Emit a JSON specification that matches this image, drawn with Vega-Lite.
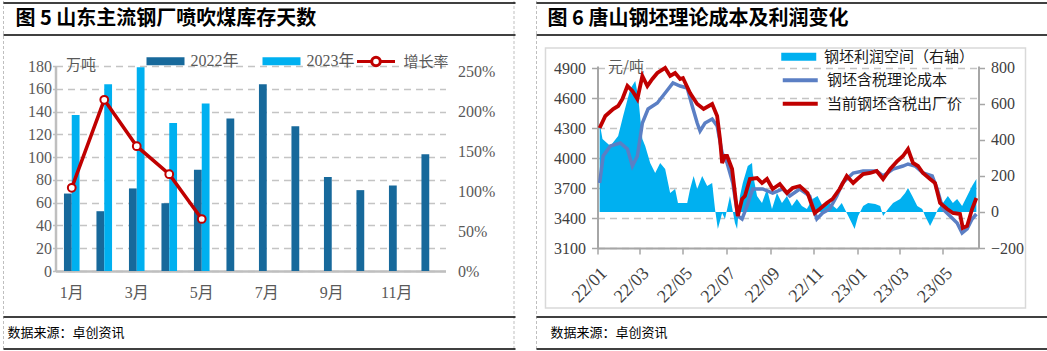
{
  "$schema": "https://vega.github.io/schema/vega-lite/v6.json",
  "padding": {"left": 2.5, "top": 0, "right": 0, "bottom": 0},
  "bounds": "flush",
  "spacing": 152,
  "resolve": {
    "scale": {"color": "independent", "fill": "independent", "stroke": "independent"},
    "legend": {"color": "independent", "fill": "independent", "stroke": "independent"}
  },
  "config": {
    "view": {"stroke": null},
    "axis": {
      "labelFont": "Liberation Serif, Noto Sans CJK SC",
      "labelColor": "#595959",
      "labelFontSize": 16,
      "labelOverlap": false,
      "domainColor": "#BFBFBF",
      "domainWidth": 2,
      "tickColor": "#BFBFBF",
      "tickWidth": 1.5,
      "gridColor": "#C4C4C4",
      "gridDash": [7, 5],
      "gridWidth": 1.4,
      "titleFont": "Noto Sans CJK SC",
      "titleFontWeight": "normal",
      "titleColor": "#595959",
      "titleFontSize": 15
    },
    "legend": {"padding": 0, "offset": 0}
  },
  "hconcat": [
    {
      "width": 390,
      "height": 205,
      "layer": [
        {
          "layer": [
            {
              "data": {"values": [
                {"month": 1, "year": "2022年", "value": 68}, {"month": 1, "year": "2023年", "value": 137},
                {"month": 2, "year": "2022年", "value": 52.5}, {"month": 2, "year": "2023年", "value": 164},
                {"month": 3, "year": "2022年", "value": 72.5}, {"month": 3, "year": "2023年", "value": 179},
                {"month": 4, "year": "2022年", "value": 59.5}, {"month": 4, "year": "2023年", "value": 130},
                {"month": 5, "year": "2022年", "value": 89}, {"month": 5, "year": "2023年", "value": 147},
                {"month": 6, "year": "2022年", "value": 134}, {"month": 7, "year": "2022年", "value": 164},
                {"month": 8, "year": "2022年", "value": 127}, {"month": 9, "year": "2022年", "value": 82.5},
                {"month": 10, "year": "2022年", "value": 71}, {"month": 11, "year": "2022年", "value": 75},
                {"month": 12, "year": "2022年", "value": 102.5}
              ]},
              "mark": {"type": "bar"},
              "encoding": {
                "x": {
                  "field": "month", "type": "ordinal",
                  "scale": {"domain": [1, 2, 3, 4, 5, 6, 7, 8, 9, 10, 11, 12], "paddingInner": 0.52, "paddingOuter": 0.26},
                  "axis": {"values": [1, 3, 5, 7, 9, 11], "labelExpr": "datum.value + '月'", "labelAngle": 0, "ticks": false, "domainWidth": 2.5, "labelPadding": 13, "title": null, "grid": false}
                },
                "xOffset": {"field": "year", "scale": {"domain": ["2022年", "2023年"]}},
                "y": {
                  "field": "value", "type": "quantitative",
                  "scale": {"domain": [0, 180], "nice": false},
                  "axis": {"values": [0, 20, 40, 60, 80, 100, 120, 140, 160, 180], "grid": true, "tickSize": 3, "labelPadding": 1, "domainWidth": 2.5, "title": "万吨", "titleAngle": 0, "titleX": 10, "titleY": -2, "titleAlign": "left", "titleBaseline": "middle"}
                },
                "color": {
                  "field": "year", "type": "nominal",
                  "scale": {"domain": ["2022年", "2023年"], "range": ["#17699B", "#00B0F0"]},
                  "legend": {"orient": "none", "legendX": 99.5, "legendY": -15.5, "direction": "horizontal", "title": null, "symbolType": "M-2,-0.42H2V0.42H-2Z", "symbolSize": 361, "labelOffset": 14.5, "columnPadding": 23, "labelFont": "Liberation Serif, Noto Sans CJK SC", "labelFontSize": 16, "labelColor": "#595959"}
                }
              }
            },
            {
              "data": {"values": [
                {"month": 1, "rate": 1.04}, {"month": 2, "rate": 2.14}, {"month": 3, "rate": 1.56},
                {"month": 4, "rate": 1.21}, {"month": 5, "rate": 0.65}
              ]},
              "mark": {"type": "line", "strokeWidth": 3.5, "point": {"filled": true, "fill": "white", "stroke": "#C00000", "strokeWidth": 2, "size": 60}},
              "encoding": {
                "x": {"field": "month", "type": "ordinal", "scale": {"domain": [1, 2, 3, 4, 5, 6, 7, 8, 9, 10, 11, 12]}},
                "y": {
                  "field": "rate", "type": "quantitative",
                  "scale": {"domain": [0, 2.5625], "nice": false},
                  "axis": {"orient": "right", "values": [0, 0.5, 1, 1.5, 2, 2.5], "format": ".0%", "domain": false, "ticks": false, "grid": false, "labelPadding": 12, "title": null}
                },
                "stroke": {
                  "datum": "增长率",
                  "scale": {"range": ["#C00000"]},
                  "legend": {"orient": "none", "legendX": 309.5, "legendY": -15.5, "title": null, "symbolType": "M-2,0H-0.45M0.45,0H2M0.45,0A0.45,0.45,0,1,1,-0.45,0A0.45,0.45,0,1,1,0.45,0", "symbolSize": 361, "symbolStrokeWidth": 3, "symbolFillColor": "white", "labelOffset": 16.5, "labelFont": "Noto Sans CJK SC", "labelFontSize": 15, "labelColor": "#595959"}
                }
              }
            }
          ],
          "resolve": {"scale": {"y": "independent"}}
        },
        {
          "data": {"values": [{}]},
          "layer": [
            {"mark": {"type": "rule", "color": "#BFBFBF", "strokeWidth": 1, "strokeDash": [3, 2]},
             "encoding": {"x": {"datum": 0.00287, "type": "quantitative", "scale": {"domain": [0, 1], "range": [-55, 992]}, "axis": null},
                          "y": {"datum": 0, "type": "quantitative", "scale": {"domain": [0, 1], "range": [-65, 286]}, "axis": null}, "y2": {"datum": 1}}},
            {"mark": {"type": "rule", "color": "#BFBFBF", "strokeWidth": 1, "strokeDash": [3, 2]},
             "encoding": {"x": {"datum": 0.49045, "type": "quantitative"}, "y": {"datum": 0, "type": "quantitative"}, "y2": {"datum": 1}}},
            {"mark": {"type": "rule", "color": "#000000", "strokeWidth": 1.5},
             "encoding": {"x": {"datum": 0.00287, "type": "quantitative"}, "x2": {"datum": 0.4919}, "y": {"datum": 0.0057, "type": "quantitative"}}},
            {"mark": {"type": "rule", "color": "#000000", "strokeWidth": 1.5},
             "encoding": {"x": {"datum": 0.00287, "type": "quantitative"}, "x2": {"datum": 0.4919}, "y": {"datum": 0.0969, "type": "quantitative"}}},
            {"mark": {"type": "rule", "color": "#000000", "strokeWidth": 1.5},
             "encoding": {"x": {"datum": 0.00287, "type": "quantitative"}, "x2": {"datum": 0.4919}, "y": {"datum": 0.9003, "type": "quantitative"}}},
            {"mark": {"type": "rule", "color": "#000000", "strokeWidth": 1.5},
             "encoding": {"x": {"datum": 0.00287, "type": "quantitative"}, "x2": {"datum": 0.4919}, "y": {"datum": 0.9915, "type": "quantitative"}}},
            {"mark": {"type": "text", "align": "left", "baseline": "middle", "font": "Noto Sans CJK SC", "fontSize": 20, "fontWeight": "bold", "color": "#000000"},
             "encoding": {"x": {"datum": 0.0143, "type": "quantitative"}, "y": {"datum": 0.0513, "type": "quantitative"}, "text": {"value": "图 5 山东主流钢厂喷吹煤库存天数"}}},
            {"mark": {"type": "text", "align": "left", "baseline": "middle", "font": "Noto Sans CJK SC", "fontSize": 13, "color": "#000000"},
             "encoding": {"x": {"datum": 0.0067, "type": "quantitative"}, "y": {"datum": 0.9459, "type": "quantitative"}, "text": {"value": "数据来源：卓创资讯"}}}
          ]
        }
      ],
      "resolve": {"scale": {"x": "independent", "y": "independent"}}
    },
    {
      "width": 381,
      "height": 182,
      "layer": [
        {
          "layer": [
            {
              "data": {"values": [
                {"date": "2022-01-04", "profit": 496}, {"date": "2022-01-08", "profit": 405}, {"date": "2022-01-19", "profit": 367},
                {"date": "2022-01-30", "profit": 422}, {"date": "2022-02-06", "profit": 533}, {"date": "2022-02-16", "profit": 683},
                {"date": "2022-02-23", "profit": 728}, {"date": "2022-02-27", "profit": 644}, {"date": "2022-03-05", "profit": 405},
                {"date": "2022-03-09", "profit": 367}, {"date": "2022-03-16", "profit": 272}, {"date": "2022-03-23", "profit": 217},
                {"date": "2022-03-30", "profit": 272}, {"date": "2022-04-06", "profit": 239}, {"date": "2022-04-13", "profit": 106},
                {"date": "2022-04-20", "profit": 128}, {"date": "2022-04-24", "profit": 50}, {"date": "2022-05-07", "profit": 50},
                {"date": "2022-05-11", "profit": 128}, {"date": "2022-05-16", "profit": 200}, {"date": "2022-05-21", "profit": 128},
                {"date": "2022-05-28", "profit": 200}, {"date": "2022-06-04", "profit": 144}, {"date": "2022-06-11", "profit": 161},
                {"date": "2022-06-15", "profit": 17}, {"date": "2022-06-19", "profit": -94}, {"date": "2022-06-25", "profit": -6},
                {"date": "2022-06-29", "profit": -39}, {"date": "2022-07-06", "profit": 89}, {"date": "2022-07-13", "profit": -61},
                {"date": "2022-07-16", "profit": -94}, {"date": "2022-07-20", "profit": 89}, {"date": "2022-07-24", "profit": 161},
                {"date": "2022-07-31", "profit": 256}, {"date": "2022-08-06", "profit": 272}, {"date": "2022-08-07", "profit": 217},
                {"date": "2022-08-13", "profit": 89}, {"date": "2022-08-20", "profit": 50}, {"date": "2022-08-27", "profit": 128},
                {"date": "2022-09-03", "profit": 17}, {"date": "2022-09-10", "profit": 106}, {"date": "2022-09-17", "profit": 50},
                {"date": "2022-09-24", "profit": 89}, {"date": "2022-10-01", "profit": 33}, {"date": "2022-10-08", "profit": 72},
                {"date": "2022-10-15", "profit": 33}, {"date": "2022-10-22", "profit": 17}, {"date": "2022-10-30", "profit": 72},
                {"date": "2022-11-06", "profit": 89}, {"date": "2022-11-13", "profit": 33}, {"date": "2022-11-23", "profit": 50},
                {"date": "2022-12-03", "profit": 17}, {"date": "2022-12-10", "profit": 50}, {"date": "2022-12-17", "profit": -6},
                {"date": "2022-12-24", "profit": -61}, {"date": "2022-12-28", "profit": -94}, {"date": "2023-01-02", "profit": -22},
                {"date": "2023-01-09", "profit": 33}, {"date": "2023-01-16", "profit": 50}, {"date": "2023-01-26", "profit": 44},
                {"date": "2023-02-02", "profit": 33}, {"date": "2023-02-06", "profit": -22}, {"date": "2023-02-13", "profit": 17},
                {"date": "2023-02-20", "profit": 50}, {"date": "2023-03-02", "profit": 72}, {"date": "2023-03-09", "profit": 106},
                {"date": "2023-03-13", "profit": 133}, {"date": "2023-03-19", "profit": 89}, {"date": "2023-03-26", "profit": 33},
                {"date": "2023-04-02", "profit": 17}, {"date": "2023-04-06", "profit": -22}, {"date": "2023-04-13", "profit": -78},
                {"date": "2023-04-20", "profit": -22}, {"date": "2023-04-24", "profit": 17}, {"date": "2023-05-01", "profit": 50},
                {"date": "2023-05-08", "profit": 89}, {"date": "2023-05-15", "profit": 50}, {"date": "2023-05-21", "profit": 72},
                {"date": "2023-05-28", "profit": 33}, {"date": "2023-06-04", "profit": 89}, {"date": "2023-06-11", "profit": 144},
                {"date": "2023-06-17", "profit": 183}
              ]},
              "mark": {"type": "area", "interpolate": "linear"},
              "encoding": {
                "x": {
                  "field": "date", "type": "temporal",
                  "scale": {"domain": [{"year": 2022, "month": 1, "date": 1}, {"year": 2023, "month": 6, "date": 20}], "nice": false},
                  "axis": {
                    "values": [{"year": 2022, "month": 1, "date": 1}, {"year": 2022, "month": 3, "date": 1}, {"year": 2022, "month": 5, "date": 1},
                               {"year": 2022, "month": 7, "date": 1}, {"year": 2022, "month": 9, "date": 1}, {"year": 2022, "month": 11, "date": 1},
                               {"year": 2023, "month": 1, "date": 1}, {"year": 2023, "month": 3, "date": 1}, {"year": 2023, "month": 5, "date": 1}],
                    "format": "%y/%m", "labelAngle": -45, "labelFontSize": 18, "title": null, "grid": false, "tickSize": 6, "labelPadding": 10,
                    "domainColor": "#A6A6A6", "tickColor": "#A6A6A6", "labelColor": "#404040"
                  }
                },
                "y": {
                  "field": "profit", "type": "quantitative",
                  "scale": {"domain": [-200, 811.1], "nice": false},
                  "axis": {"orient": "right", "values": [-200, 0, 200, 400, 600, 800], "format": "d", "grid": false, "title": null, "tickSize": 6, "labelPadding": 6, "domainColor": "#A6A6A6", "tickColor": "#A6A6A6", "labelColor": "#404040"}
                },
                "y2": {"datum": 0},
                "fill": {
                  "datum": "钢坯利润空间（右轴）",
                  "scale": {"range": ["#00B0F0"]},
                  "legend": {"orient": "none", "legendX": 191.75, "legendY": -18.75, "title": null, "symbolType": "M-2,-0.45H2V0.45H-2Z", "symbolSize": 306.25, "labelOffset": 15.75, "labelFont": "Noto Sans CJK SC", "labelFontSize": 15, "labelColor": "#1A1A1A"}
                }
              }
            },
            {
              "layer": [
                {
                  "data": {"values": [
                    {"date": "2022-01-04", "value": 3750}, {"date": "2022-01-09", "value": 4020}, {"date": "2022-01-19", "value": 4120},
                    {"date": "2022-02-02", "value": 4150}, {"date": "2022-02-12", "value": 4090}, {"date": "2022-02-19", "value": 3920},
                    {"date": "2022-02-26", "value": 4020}, {"date": "2022-03-05", "value": 4350}, {"date": "2022-03-13", "value": 4490},
                    {"date": "2022-03-26", "value": 4550}, {"date": "2022-04-06", "value": 4650}, {"date": "2022-04-17", "value": 4750},
                    {"date": "2022-04-27", "value": 4720}, {"date": "2022-05-07", "value": 4700}, {"date": "2022-05-14", "value": 4520},
                    {"date": "2022-05-21", "value": 4350}, {"date": "2022-05-25", "value": 4270}, {"date": "2022-06-01", "value": 4350},
                    {"date": "2022-06-11", "value": 4390}, {"date": "2022-06-18", "value": 4320}, {"date": "2022-06-25", "value": 4050},
                    {"date": "2022-07-02", "value": 3950}, {"date": "2022-07-10", "value": 3750}, {"date": "2022-07-17", "value": 3420},
                    {"date": "2022-07-23", "value": 3390}, {"date": "2022-07-30", "value": 3520}, {"date": "2022-08-07", "value": 3690},
                    {"date": "2022-08-21", "value": 3690}, {"date": "2022-09-04", "value": 3650}, {"date": "2022-09-18", "value": 3690},
                    {"date": "2022-09-28", "value": 3620}, {"date": "2022-10-12", "value": 3690}, {"date": "2022-10-26", "value": 3620},
                    {"date": "2022-11-05", "value": 3390}, {"date": "2022-11-13", "value": 3450}, {"date": "2022-11-23", "value": 3490},
                    {"date": "2022-12-03", "value": 3620}, {"date": "2022-12-11", "value": 3750}, {"date": "2022-12-26", "value": 3850},
                    {"date": "2023-01-09", "value": 3870}, {"date": "2023-01-28", "value": 3870}, {"date": "2023-02-06", "value": 3820},
                    {"date": "2023-02-20", "value": 3890}, {"date": "2023-03-06", "value": 3920}, {"date": "2023-03-13", "value": 3940},
                    {"date": "2023-03-23", "value": 3920}, {"date": "2023-04-03", "value": 3850}, {"date": "2023-04-16", "value": 3820},
                    {"date": "2023-04-23", "value": 3690}, {"date": "2023-05-01", "value": 3490}, {"date": "2023-05-11", "value": 3420},
                    {"date": "2023-05-21", "value": 3350}, {"date": "2023-05-28", "value": 3250}, {"date": "2023-06-04", "value": 3290},
                    {"date": "2023-06-11", "value": 3390}, {"date": "2023-06-17", "value": 3440}
                  ]},
                  "mark": {"type": "line", "strokeWidth": 3.5},
                  "encoding": {
                    "x": {"field": "date", "type": "temporal"},
                    "y": {
                      "field": "value", "type": "quantitative",
                      "scale": {"domain": [3100, 4920], "nice": false},
                      "axis": {"values": [3100, 3400, 3700, 4000, 4300, 4600, 4900], "format": "d", "labelOverlap": false, "grid": true, "title": "元/吨", "titleAngle": 0, "titleX": 10, "titleY": 0, "titleAlign": "left", "titleBaseline": "middle", "tickSize": 6, "labelPadding": 6, "domainColor": "#A6A6A6", "tickColor": "#A6A6A6", "labelColor": "#404040"}
                    },
                    "stroke": {
                      "datum": "钢坯含税理论成本",
                      "scale": {"domain": ["钢坯含税理论成本", "当前钢坯含税出厂价"], "range": ["#5B7FC4", "#C00000"]},
                      "legend": {"orient": "none", "legendX": 191.75, "legendY": 3.25, "direction": "vertical", "title": null, "symbolType": "M-2,0H2", "symbolSize": 306.25, "symbolStrokeWidth": 4, "labelOffset": 15.75, "rowPadding": 4.5, "labelFont": "Noto Sans CJK SC", "labelFontSize": 15, "labelColor": "#1A1A1A"}
                    }
                  }
                },
                {
                  "data": {"values": [
                    {"date": "2022-01-04", "value": 4300}, {"date": "2022-01-12", "value": 4420}, {"date": "2022-01-23", "value": 4490},
                    {"date": "2022-01-30", "value": 4520}, {"date": "2022-02-05", "value": 4590}, {"date": "2022-02-12", "value": 4720},
                    {"date": "2022-02-19", "value": 4670}, {"date": "2022-02-26", "value": 4590}, {"date": "2022-03-05", "value": 4820},
                    {"date": "2022-03-12", "value": 4720}, {"date": "2022-03-19", "value": 4790}, {"date": "2022-03-26", "value": 4850},
                    {"date": "2022-04-06", "value": 4900}, {"date": "2022-04-13", "value": 4820}, {"date": "2022-04-20", "value": 4850},
                    {"date": "2022-04-27", "value": 4790}, {"date": "2022-05-01", "value": 4800}, {"date": "2022-05-11", "value": 4650},
                    {"date": "2022-05-21", "value": 4540}, {"date": "2022-05-30", "value": 4490}, {"date": "2022-06-11", "value": 4540},
                    {"date": "2022-06-18", "value": 4420}, {"date": "2022-06-22", "value": 4190}, {"date": "2022-06-25", "value": 3950},
                    {"date": "2022-06-29", "value": 4020}, {"date": "2022-07-02", "value": 4020}, {"date": "2022-07-09", "value": 3890},
                    {"date": "2022-07-14", "value": 3590}, {"date": "2022-07-17", "value": 3420}, {"date": "2022-07-23", "value": 3590},
                    {"date": "2022-07-27", "value": 3620}, {"date": "2022-08-03", "value": 3790}, {"date": "2022-08-13", "value": 3800},
                    {"date": "2022-08-20", "value": 3750}, {"date": "2022-08-27", "value": 3790}, {"date": "2022-09-04", "value": 3690},
                    {"date": "2022-09-14", "value": 3740}, {"date": "2022-09-24", "value": 3650}, {"date": "2022-10-02", "value": 3700},
                    {"date": "2022-10-12", "value": 3720}, {"date": "2022-10-23", "value": 3650}, {"date": "2022-11-02", "value": 3450},
                    {"date": "2022-11-09", "value": 3490}, {"date": "2022-11-19", "value": 3550}, {"date": "2022-11-27", "value": 3590},
                    {"date": "2022-12-07", "value": 3690}, {"date": "2022-12-17", "value": 3820}, {"date": "2022-12-26", "value": 3750},
                    {"date": "2023-01-01", "value": 3790}, {"date": "2023-01-09", "value": 3840}, {"date": "2023-01-19", "value": 3850},
                    {"date": "2023-01-28", "value": 3870}, {"date": "2023-02-06", "value": 3790}, {"date": "2023-02-16", "value": 3890},
                    {"date": "2023-02-26", "value": 3970}, {"date": "2023-03-06", "value": 4020}, {"date": "2023-03-13", "value": 4090},
                    {"date": "2023-03-20", "value": 3950}, {"date": "2023-03-27", "value": 3920}, {"date": "2023-04-03", "value": 3850},
                    {"date": "2023-04-13", "value": 3790}, {"date": "2023-04-20", "value": 3750}, {"date": "2023-04-27", "value": 3550},
                    {"date": "2023-05-07", "value": 3490}, {"date": "2023-05-15", "value": 3450}, {"date": "2023-05-25", "value": 3440},
                    {"date": "2023-05-29", "value": 3300}, {"date": "2023-06-04", "value": 3320}, {"date": "2023-06-11", "value": 3490},
                    {"date": "2023-06-17", "value": 3600}
                  ]},
                  "mark": {"type": "line", "strokeWidth": 3.8},
                  "encoding": {
                    "x": {"field": "date", "type": "temporal"},
                    "y": {
                      "field": "value", "type": "quantitative",
                      "scale": {"domain": [3100, 4920], "nice": false},
                      "axis": {"values": [3100, 3400, 3700, 4000, 4300, 4600, 4900], "format": "d", "labelOverlap": false, "grid": true, "title": "元/吨", "titleAngle": 0, "titleX": 10, "titleY": 0, "titleAlign": "left", "titleBaseline": "middle", "tickSize": 6, "labelPadding": 6, "domainColor": "#A6A6A6", "tickColor": "#A6A6A6", "labelColor": "#404040"}
                    },
                    "stroke": {"datum": "当前钢坯含税出厂价"}
                  }
                }
              ]
            }
          ],
          "resolve": {"scale": {"y": "independent"}}
        },
        {
          "data": {"values": [{}]},
          "layer": [
            {"mark": {"type": "rect", "fill": null, "stroke": "#D9D9D9", "strokeWidth": 1.5},
             "encoding": {"x": {"datum": 0.52053, "type": "quantitative", "scale": {"domain": [0, 1], "range": [-597, 450]}, "axis": null}, "x2": {"datum": 0.97899},
                          "y": {"datum": 0.1339, "type": "quantitative", "scale": {"domain": [0, 1], "range": [-65, 286]}, "axis": null}, "y2": {"datum": 0.8746}}},
            {"mark": {"type": "rule", "color": "#BFBFBF", "strokeWidth": 1, "strokeDash": [3, 2]},
             "encoding": {"x": {"datum": 0.51194, "type": "quantitative"}, "y": {"datum": 0, "type": "quantitative"}, "y2": {"datum": 1}}},
            {"mark": {"type": "rule", "color": "#000000", "strokeWidth": 1.5},
             "encoding": {"x": {"datum": 0.51194, "type": "quantitative"}, "x2": {"datum": 1}, "y": {"datum": 0.0057, "type": "quantitative"}}},
            {"mark": {"type": "rule", "color": "#000000", "strokeWidth": 1.5},
             "encoding": {"x": {"datum": 0.51194, "type": "quantitative"}, "x2": {"datum": 1}, "y": {"datum": 0.0969, "type": "quantitative"}}},
            {"mark": {"type": "rule", "color": "#000000", "strokeWidth": 1.5},
             "encoding": {"x": {"datum": 0.51194, "type": "quantitative"}, "x2": {"datum": 1}, "y": {"datum": 0.9003, "type": "quantitative"}}},
            {"mark": {"type": "rule", "color": "#000000", "strokeWidth": 1.5},
             "encoding": {"x": {"datum": 0.51194, "type": "quantitative"}, "x2": {"datum": 1}, "y": {"datum": 0.9915, "type": "quantitative"}}},
            {"mark": {"type": "text", "align": "left", "baseline": "middle", "font": "Noto Sans CJK SC", "fontSize": 20, "fontWeight": "bold", "color": "#000000"},
             "encoding": {"x": {"datum": 0.52245, "type": "quantitative"}, "y": {"datum": 0.0513, "type": "quantitative"}, "text": {"value": "图 6 唐山钢坯理论成本及利润变化"}}},
            {"mark": {"type": "text", "align": "left", "baseline": "middle", "font": "Noto Sans CJK SC", "fontSize": 13, "color": "#000000"},
             "encoding": {"x": {"datum": 0.5253, "type": "quantitative"}, "y": {"datum": 0.9459, "type": "quantitative"}, "text": {"value": "数据来源：卓创资讯"}}}
          ]
        }
      ],
      "resolve": {"scale": {"x": "independent", "y": "independent"}}
    }
  ]
}
